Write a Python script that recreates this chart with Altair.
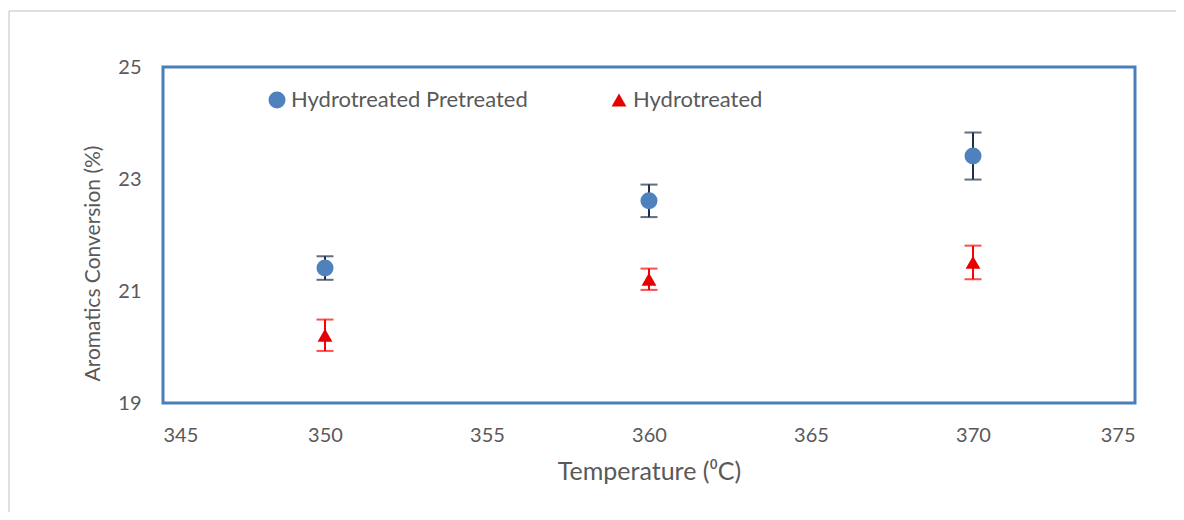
import altair as alt
import pandas as pd

temps = [350, 360, 370]
series_names = ["Hydrotreated Pretreated", "Hydrotreated"]
pretreated = [21.41, 22.61, 23.41]
pretreated_err = [0.21, 0.29, 0.42]
hydrotreated = [20.21, 21.21, 21.51]
hydrotreated_err = [0.28, 0.19, 0.30]

x_ticks = [345, 350, 355, 360, 365, 370, 375]
y_ticks = [19, 21, 23, 25]

rows = []
for t, v, e in zip(temps, pretreated, pretreated_err):
    rows.append({"T": t, "val": v, "lo": v - e, "hi": v + e, "series": series_names[0]})
for t, v, e in zip(temps, hydrotreated, hydrotreated_err):
    rows.append({"T": t, "val": v, "lo": v - e, "hi": v + e, "series": series_names[1]})
df = pd.DataFrame(rows)

FONT = "Lato"
GRAY = "#595959"

xscale = alt.Scale(domain=[345, 375], nice=False, zero=False)
yscale = alt.Scale(domain=[19, 25], nice=False, zero=False)

xenc = alt.X("T:Q", scale=xscale,
             axis=alt.Axis(values=x_ticks, title="Temperature (⁰C)", grid=False, domain=False,
                           ticks=False, labelPadding=22, titlePadding=14, format="d",
                           titleFontSize=25))
yenc = alt.Y("val:Q", scale=yscale,
             axis=alt.Axis(values=y_ticks, title="Aromatics  Conversion (%)", grid=False,
                           domain=False, ticks=False, labelPadding=22, titlePadding=14,
                           format="d", titleFontSize=21, titleY=196))

base = alt.Chart(df)

outer = alt.Chart(pd.DataFrame({"a": [0]})).mark_rect(
    fill=None, stroke="#c0c0c0", strokeWidth=1
).encode(x=alt.value(-154), x2=alt.value(1100), y=alt.value(-56), y2=alt.value(500))

err_colors = ["#1f2f4d", "#ff0000"]
err_layers = []
for name, col in zip(series_names, err_colors):
    b = base.transform_filter(alt.datum.series == name)
    err_layers.append(b.mark_rule(strokeWidth=2, color=col).encode(
        x="T:Q", y=alt.Y("lo:Q", scale=yscale), y2="hi:Q"))
    err_layers.append(b.mark_tick(orient="horizontal", size=17, thickness=2, color=col).encode(
        x="T:Q", y=alt.Y("lo:Q", scale=yscale)))
    err_layers.append(b.mark_tick(orient="horizontal", size=17, thickness=2, color=col).encode(
        x="T:Q", y=alt.Y("hi:Q", scale=yscale)))

leg = dict(title=None, orient="none", legendX=103, legendY=22,
           direction="horizontal", columnPadding=80, labelLimit=500,
           labelFont=FONT, labelFontSize=22, labelColor=GRAY,
           symbolSize=130, symbolOpacity=1, labelOffset=3, symbolStrokeWidth=0)

points = base.mark_point(filled=True, opacity=1).encode(
    x=xenc, y=yenc,
    color=alt.Color("series:N", scale=alt.Scale(domain=series_names, range=["#4f81bd", "#e60000"]),
                    legend=alt.Legend(**leg)),
    shape=alt.Shape("series:N", scale=alt.Scale(domain=series_names, range=["circle", "triangle-up"]),
                    legend=alt.Legend(**leg)),
    size=alt.Size("series:N", scale=alt.Scale(domain=series_names, range=[290, 220]), legend=None),
)

chart = alt.layer(outer, *err_layers, points).properties(
    width=972, height=336,
    autosize=alt.AutoSizeParams(type="none"),
    padding={"left": 155, "top": 59, "right": 41, "bottom": 109},
).configure_view(
    stroke="#4a7ebb", strokeWidth=3
).configure_axis(
    labelFont=FONT, labelFontSize=20, labelColor=GRAY,
    titleFont=FONT, titleColor=GRAY, titleFontWeight="normal"
)

chart.save("out.html", embed_options={"renderer": "svg", "actions": False})
